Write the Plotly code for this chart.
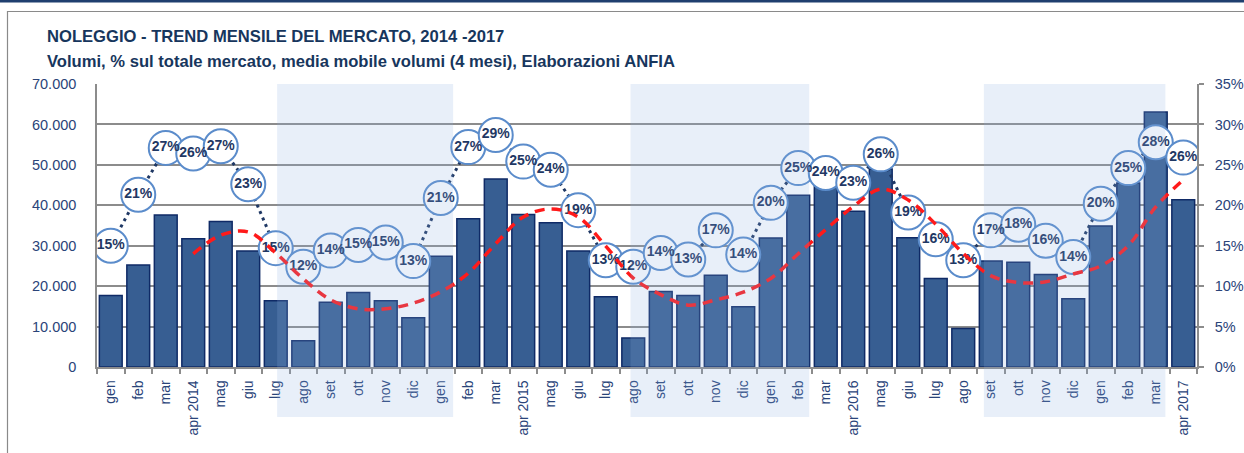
import plotly.graph_objects as go

MESI = [
    "gen", "feb", "mar", "apr 2014", "mag", "giu", "lug", "ago", "set", "ott", "nov", "dic",
    "gen", "feb", "mar", "apr 2015", "mag", "giu", "lug", "ago", "set", "ott", "nov", "dic",
    "gen", "feb", "mar", "apr 2016", "mag", "giu", "lug", "ago", "set", "ott", "nov", "dic",
    "gen", "feb", "mar", "apr 2017",
]

VOLUMI = [
    17700, 25200, 37600, 31700, 36000, 28700, 16400, 6500, 16000, 18400, 16400, 12200,
    27400, 36700, 46500, 37700, 35700, 28700, 17400, 7200, 18700, 17700, 22700, 14900,
    31900, 42500, 46000, 38500, 49000, 32000, 21900, 9500, 26200, 25900, 22900, 16900,
    34900, 45500, 63100, 41400,
]

QUOTA_PCT = [
    15.0, 21.3, 27.1, 26.4, 27.3, 22.6, 14.7, 12.4, 14.4, 15.1, 15.4, 13.1,
    20.9, 27.2, 28.7, 25.4, 24.4, 19.4, 13.2, 12.4, 14.1, 13.3, 16.9, 13.9,
    20.3, 24.6, 24.0, 22.8, 26.3, 19.1, 15.8, 13.2, 16.9, 17.6, 15.6, 13.6,
    20.2, 24.6, 27.8, 25.9,
]

MEDIA_MOBILE = [
    None, None, None, 28000, 32600, 33400, 28200, 21800, 16600, 14400, 14400, 15800,
    18600, 23200, 30500, 37100, 39100, 37100, 29900, 22000, 17900, 15300, 16600, 18500,
    21900, 28000, 34000, 39700, 44000, 41300, 35300, 28100, 22600, 20900, 21100, 23000,
    25000, 30000, 39600, 46300,
]

# Geometria della pagina (pixel)
W, H = 1244, 453
M_L, M_R, M_T, M_B = 97, 47, 84, 86
PW, PH = W - M_L - M_R, H - M_T - M_B

NAVY = "#17365D"
TICK_COL = "#2A4479"
GRID = "#8C8C8C"
FONT = "Liberation Sans, Arial, sans-serif"


def px_x(px):
    return (px - M_L) / PW


def px_y(py):
    return (H - M_B - py) / PH


x = list(range(len(MESI)))

fig = go.Figure()

fig.add_trace(go.Bar(
    x=x,
    y=VOLUMI,
    marker=dict(color="#375E92", line=dict(color="#0F2A66", width=1.5)),
    name="Volumi",
    yaxis="y",
))

fig.add_trace(go.Scatter(
    x=x,
    y=QUOTA_PCT,
    mode="lines+markers+text",
    text=[f"{v:.0f}%" for v in QUOTA_PCT],
    textposition="middle center",
    textfont=dict(family=FONT, size=14, color="#1F3864", weight="bold"),
    line=dict(color="#1F3864", width=3, dash="3px,4px"),
    marker=dict(size=34, color="white", line=dict(color="#5B8CCB", width=2)),
    name="% sul totale mercato",
    yaxis="y2",
))

fig.add_trace(go.Scatter(
    x=x,
    y=MEDIA_MOBILE,
    mode="lines",
    line=dict(color="#FF1A1A", width=3.5, dash="10px,7px", shape="spline"),
    name="Media mobile 4 mesi",
    yaxis="y3",
))

shapes = []
# bande ombreggiate (sovrapposte, semitrasparenti)
for x0, x1 in [(6.05, 12.45), (18.9, 25.4), (31.75, 38.35)]:
    shapes.append(dict(
        type="rect", xref="x", yref="paper",
        x0=x0, x1=x1, y0=px_y(417), y1=1,
        fillcolor="rgba(140,175,225,0.2)", line=dict(width=0), layer="above",
    ))
# cornice grigia e banda blu in alto
shapes.append(dict(
    type="rect", xref="paper", yref="paper",
    x0=px_x(7.5), x1=px_x(1270), y0=px_y(480), y1=px_y(11.5),
    line=dict(color="#8A8A8A", width=1.2), fillcolor="rgba(0,0,0,0)", layer="below",
))
shapes.append(dict(
    type="rect", xref="paper", yref="paper",
    x0=px_x(-10), x1=px_x(1260), y0=px_y(2.5), y1=px_y(-5),
    line=dict(width=0), fillcolor="#1F3F6F", layer="below",
))

annotations = [
    dict(
        text="<b>NOLEGGIO - TREND MENSILE DEL MERCATO, 2014 -2017</b>",
        xref="paper", yref="paper", x=px_x(45), y=px_y(37),
        xanchor="left", yanchor="middle", showarrow=False,
        font=dict(family=FONT, size=16.6, color=NAVY),
    ),
    dict(
        text="<b>Volumi, % sul totale mercato, media mobile volumi (4 mesi), Elaborazioni ANFIA</b>",
        xref="paper", yref="paper", x=px_x(45), y=px_y(61),
        xanchor="left", yanchor="middle", showarrow=False,
        font=dict(family=FONT, size=16.6, color=NAVY),
    ),
]

fig.update_layout(
    width=W,
    height=H,
    margin=dict(l=M_L, r=M_R, t=M_T, b=M_B),
    paper_bgcolor="white",
    plot_bgcolor="white",
    separators=",.",
    showlegend=False,
    bargap=0.17,
    font=dict(family=FONT, color=TICK_COL),
    shapes=shapes,
    annotations=annotations,
    xaxis=dict(
        range=[-0.5, len(MESI) - 0.5],
        tickmode="array",
        tickvals=x,
        ticktext=MESI,
        tickangle=-90,
        ticks="",
        ticklabelstandoff=6,
        tickfont=dict(size=14, color=TICK_COL),
        showline=True,
        linecolor=GRID,
        linewidth=1.5,
        showgrid=False,
        zeroline=False,
        automargin=False,
        minor=dict(
            tickmode="array",
            tickvals=[i - 0.5 for i in range(len(MESI) + 1)],
            ticks="outside",
            ticklen=5,
            tickwidth=1.5,
            tickcolor=GRID,
            showgrid=False,
        ),
    ),
    yaxis=dict(
        range=[0, 70000],
        dtick=10000,
        tickformat=",d",
        tickfont=dict(size=14.5, color=TICK_COL),
        ticks="",
        ticklabelstandoff=16,
        showline=True,
        linecolor=GRID,
        linewidth=1.5,
        showgrid=True,
        gridcolor=GRID,
        gridwidth=1.5,
        zeroline=False,
        automargin=False,
    ),
    yaxis2=dict(
        range=[0, 35],
        dtick=5,
        ticksuffix="%",
        overlaying="y",
        side="right",
        tickfont=dict(size=14.5, color=TICK_COL),
        ticks="outside",
        ticklen=5,
        tickwidth=1.5,
        tickcolor=GRID,
        ticklabelstandoff=8,
        showline=True,
        linecolor=GRID,
        linewidth=1.5,
        showgrid=False,
        zeroline=False,
        automargin=False,
    ),
    yaxis3=dict(
        range=[0, 70000],
        overlaying="y",
        visible=False,
    ),
)

# niente margine del body, così la figura occupa esattamente la finestra
fig.write_html(
    "out.html",
    config={"displayModeBar": False},
    post_script="document.body.style.margin='0';document.body.style.overflow='hidden';",
)
